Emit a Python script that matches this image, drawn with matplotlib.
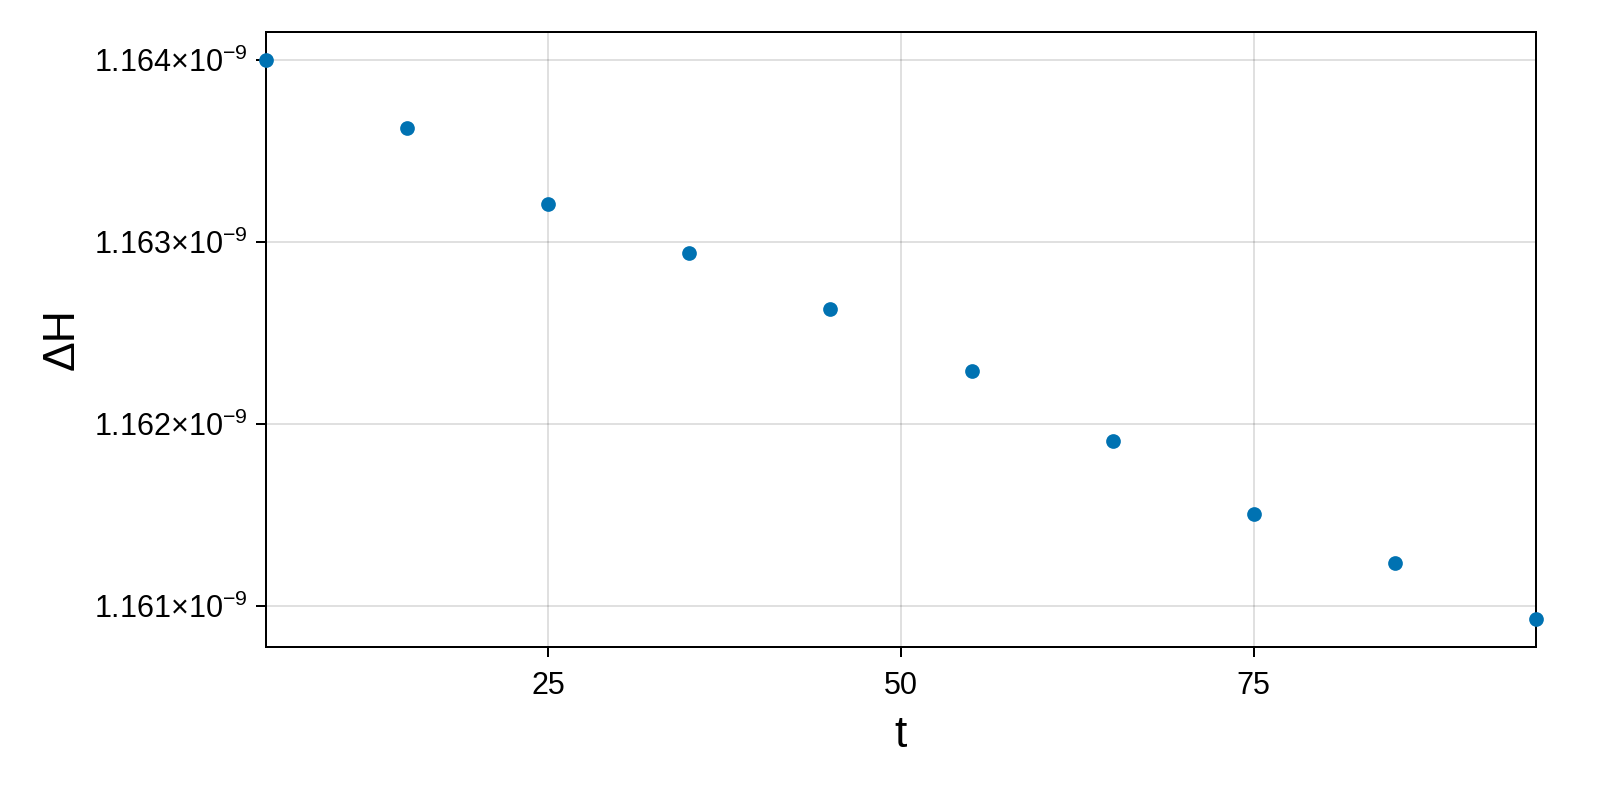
import matplotlib
matplotlib.use("Agg")
import matplotlib.pyplot as plt
from matplotlib.ticker import FixedLocator, FuncFormatter

plt.rcParams["font.family"] = ["Liberation Sans", "DejaVu Sans"]
plt.rcParams["mathtext.fontset"] = "custom"
plt.rcParams["mathtext.rm"] = "Liberation Sans"
plt.rcParams["mathtext.it"] = "Liberation Sans"
plt.rcParams["mathtext.default"] = "rm"

# values
t = [5, 15, 25, 35, 45, 55, 65, 75, 85, 95]
dH = [1.164000e-9, 1.163626e-9, 1.163209e-9, 1.162940e-9, 1.162632e-9,
      1.162291e-9, 1.161907e-9, 1.161505e-9, 1.161236e-9, 1.160929e-9]
x_ticks = [25, 50, 75]
y_ticks = [1.161e-9, 1.162e-9, 1.163e-9, 1.164e-9]


def fmt_y(v, pos):
    return r"$%.3f{\times}10^{-9}$" % (v * 1e9)


def main():
    fig = plt.figure(figsize=(8, 4), dpi=200)
    ax = fig.add_axes([0.16625, 0.19125, 0.79375, 0.76875])

    ax.scatter(t, dH, s=28, color="#0072B2", zorder=3, clip_on=False, linewidths=0)

    pad = 0.05 * (max(dH) - min(dH))
    ax.set_xlim(min(t), max(t))
    ax.set_ylim(min(dH) - pad, max(dH) + pad)

    ax.xaxis.set_major_locator(FixedLocator(x_ticks))
    ax.yaxis.set_major_locator(FixedLocator(y_ticks))
    ax.yaxis.set_major_formatter(FuncFormatter(fmt_y))

    ax.grid(True, color="black", alpha=0.12, linewidth=0.72)
    ax.set_axisbelow(True)
    for s in ax.spines.values():
        s.set_linewidth(0.72)
    ax.tick_params(direction="out", length=3.6, width=0.72, labelsize=11, pad=3)
    ax.tick_params(axis="x", pad=5)

    ax.set_xlabel("t", fontsize=16, labelpad=5)
    ax.set_ylabel("ΔH", fontsize=16, labelpad=4)

    fig.savefig("out.png", dpi=200)


if __name__ == "__main__":
    main()
